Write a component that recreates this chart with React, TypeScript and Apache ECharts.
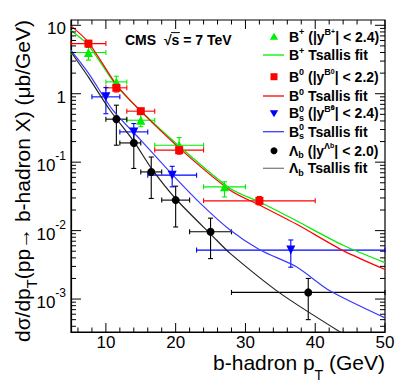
import React, { useEffect, useRef } from 'react';
import * as echarts from 'echarts';

// ---- axis ranges & ticks ----
const X_MIN = 5;
const X_MAX = 50;
const Y_MIN = 3.3e-4;
const Y_MAX = 11.95;

const xMajorTicks = [10, 20, 30, 40, 50];
const xMinorTicks = [6, 8, 12, 14, 16, 18, 22, 24, 26, 28, 32, 34, 36, 38, 42, 44, 46, 48];
const yMajorTicks = [0.001, 0.01, 0.1, 1, 10];
const yMinorMantissa = [2, 3, 4, 5, 6, 7, 8, 9];
const yMinorDecades = [0.0001, 0.001, 0.01, 0.1, 1];

// ---- B+ (green) ----
const bpX = [7.5, 11.5, 15, 20.5, 27];
const bpXLo = [5, 10, 13, 17, 24];
const bpXHi = [10, 13, 17, 24, 30];
const bpY = [4.0, 1.49, 0.41, 0.177, 0.0436];
const bpYLo = [3.1, 1.19, 0.33, 0.134, 0.031];
const bpYHi = [4.8, 1.8, 0.51, 0.229, 0.0516];

// ---- B0 (red) ----
const b0X = [7.5, 11.5, 15, 20.5, 32];
const b0XLo = [5, 10, 13, 17, 24];
const b0XHi = [10, 13, 17, 24, 40];
const b0Y = [5.4, 1.22, 0.556, 0.15, 0.0272];
const b0YLo = [4.8, 1.06, 0.5, 0.131, 0.0237];
const b0YHi = [6.0, 1.41, 0.61, 0.173, 0.0315];

// ---- Bs (blue) ----
const bsX = [10, 14, 19.5, 36.5];
const bsXLo = [8, 12, 16, 23];
const bsXHi = [12, 16, 23, 50];
const bsY = [0.9, 0.277, 0.0646, 0.00519];
const bsYLo = [0.51, 0.188, 0.0436, 0.00292];
const bsYHi = [1.23, 0.367, 0.087, 0.0073];

// ---- Lambda_b (black) ----
const lbX = [11.5, 14, 16.5, 20, 25, 39];
const lbXLo = [10, 12, 15, 18, 22, 28];
const lbXHi = [13, 15, 18, 22, 28, 50];
const lbY = [0.425, 0.191, 0.072, 0.0279, 0.0096, 0.00125];
const lbYLo = [0.177, 0.081, 0.0295, 0.0113, 0.0039, 0.0005];
const lbYHi = [0.68, 0.293, 0.119, 0.0446, 0.0152, 0.002];

// ---- Tsallis fits ----
const bpFitX = [5, 7.5, 11.5, 15, 20.6, 27.8, 32.5, 37.3, 44, 50];
const bpFitY = [8.4, 5.1, 1.31, 0.56, 0.168, 0.0413, 0.0249, 0.0139, 0.0061, 0.0034];
const b0FitX = [5, 7.5, 11.5, 15, 20.6, 27.8, 32.5, 37.3, 44, 50];
const b0FitY = [9.8, 5.65, 1.36, 0.556, 0.158, 0.039, 0.0223, 0.01245, 0.0051, 0.0027];
const bsFitX = [5, 7.5, 11, 15, 19.6, 23.5, 27.8, 32.1, 37.3, 42.1, 50];
const bsFitY = [4.3, 2.0, 0.574, 0.21, 0.0646, 0.0252, 0.0102, 0.0052, 0.00296, 0.00132, 0.00053];
const lbFitX = [5, 7.5, 10.6, 14.1, 16.5, 20.1, 25.4, 27.8, 35, 44];
const lbFitY = [4.07, 1.75, 0.574, 0.195, 0.082, 0.0285, 0.0081, 0.00465, 0.00121, 0.00031];

const FONT = '"Liberation Sans", Arial, Helvetica, sans-serif';

const GREEN = '#00ee00';
const RED = '#ff0000';
const BLUE = '#0000ff';
const BLACK = '#000000';

function zip(xs: number[], ys: number[]) {
  return xs.map((x, i) => [x, ys[i]]);
}
function errRows(x: number[], y: number[], xl: number[], xh: number[], yl: number[], yh: number[]) {
  return x.map((v, i) => [v, y[i], xl[i], xh[i], yl[i], yh[i]]);
}

function errSeries(data: number[][], color: string) {
  return {
    type: 'custom',
    coordinateSystem: 'cartesian2d',
    encode: { x: 0, y: 1 },
    data,
    z: 3,
    renderItem: (params: any, api: any) => {
      const x = api.value(0), y = api.value(1);
      const l = api.coord([api.value(2), y]);
      const r = api.coord([api.value(3), y]);
      const lo = api.coord([x, api.value(4)]);
      const hi = api.coord([x, api.value(5)]);
      const cap = 2.5;
      const st = { stroke: color, lineWidth: 1.1 };
      const ln = (x1: number, y1: number, x2: number, y2: number) => ({
        type: 'line', shape: { x1, y1, x2, y2 }, style: st,
      });
      return {
        type: 'group',
        children: [
          ln(l[0], l[1], r[0], r[1]),
          ln(lo[0], lo[1], hi[0], hi[1]),
          ln(l[0], l[1] - cap, l[0], l[1] + cap),
          ln(r[0], r[1] - cap, r[0], r[1] + cap),
          ln(lo[0] - cap, lo[1], lo[0] + cap, lo[1]),
          ln(hi[0] - cap, hi[1], hi[0] + cap, hi[1]),
        ],
      };
    },
  };
}

function fitSeries(xs: number[], ys: number[], color: string) {
  return {
    type: 'line',
    data: zip(xs, ys),
    showSymbol: false,
    smooth: 0.25,
    lineStyle: { color, width: 1.2 },
    z: 4,
    silent: true,
  };
}

function markerSeries(xs: number[], ys: number[], color: string, symbol: string, size: number, rotate = 0) {
  return {
    type: 'scatter',
    data: zip(xs, ys),
    symbol,
    symbolSize: size,
    symbolRotate: rotate,
    itemStyle: { color, opacity: 1 },
    z: 5,
  };
}

export default function App() {
  const ref = useRef<HTMLDivElement>(null);
  useEffect(() => {
    document.body.style.margin = '0';
    const chart = echarts.init(ref.current!, null, { renderer: 'svg' });

    const xTickData = [
      ...xMajorTicks.map((v) => [v, 1, 1]),
      ...xMinorTicks.map((v) => [v, 1, 0]),
    ];
    const yMinorTicks: number[] = [];
    yMinorDecades.forEach((d) => yMinorMantissa.forEach((m) => {
      const v = m * d;
      if (v > Y_MIN && v < Y_MAX) yMinorTicks.push(v);
    }));
    const yTickData = [
      ...yMajorTicks.map((v) => [10, v, 1]),
      ...yMinorTicks.map((v) => [10, v, 0]),
    ];

    // text measurements
    const ctx = document.createElement('canvas').getContext('2d')!;
    ctx.font = 'bold 14px "Liberation Sans"';
    const cmsX = 125;
    const wPre = ctx.measureText('CMS  \u221A').width;
    const wS = ctx.measureText('s').width;
    ctx.font = '21px "Liberation Sans"';
    const wXa = ctx.measureText('b-hadron p').width;
    const wXc = ctx.measureText(' (GeV)').width;
    ctx.font = '14px "Liberation Sans"';
    const wXb = ctx.measureText('T').width;
    const xcX = 385 - wXc;
    const xbX = xcX - wXb;
    const xaX = xbX - wXa;

    // y title: fit "dσ/dp_T(pp→ b-hadron X) (μb/GeV)" between y = 20 and y = 342
    const yA = 'd\u03C3/dp';
    const yC = '(pp\u2192 b-hadron X) (\u03BCb/GeV)';
    ctx.font = '20px "Liberation Sans"';
    const wA20 = ctx.measureText(yA).width;
    const wC20 = ctx.measureText(yC).width;
    ctx.font = '14px "Liberation Sans"';
    const wB14 = ctx.measureText('T').width;
    const yScale = 322 / (wA20 + wC20 + wB14);
    const yMainSize = 20 * yScale;
    const ySubSize = 14 * yScale;
    const wC = wC20 * yScale;
    const wB = wB14 * yScale;

    const mainRich = {
      m: { fontSize: 14, fontWeight: 'bold', fontFamily: FONT, lineHeight: 18, verticalAlign: 'middle', fill: '#000', color: '#000' },
      sp: { fontSize: 9, fontWeight: 'bold', fontFamily: FONT, lineHeight: 11, verticalAlign: 'top', fill: '#000', color: '#000' },
      spz: { fontSize: 9, fontWeight: 'bold', fontFamily: FONT, lineHeight: 11, verticalAlign: 'top', width: 0, fill: '#000', color: '#000' },
      ssp: { fontSize: 7, fontWeight: 'bold', fontFamily: FONT, lineHeight: 7, verticalAlign: 'top', fill: '#000', color: '#000' },
      sspz: { fontSize: 7, fontWeight: 'bold', fontFamily: FONT, lineHeight: 7, verticalAlign: 'top', width: 0, fill: '#000', color: '#000' },
      ssb: { fontSize: 7, fontWeight: 'bold', fontFamily: FONT, lineHeight: 15, verticalAlign: 'top', fill: '#000', color: '#000' },
      sb: { fontSize: 9, fontWeight: 'bold', fontFamily: FONT, lineHeight: 9, verticalAlign: 'bottom', fill: '#000', color: '#000' },
    };

    const legendRows = [
      { y: 36.7, kind: 'tri', color: GREEN, text: '{m|B}{sp|+}{m| (|y}{sp|B}{ssp|+}{m|| < 2.4)}' },
      { y: 55, kind: 'line', color: GREEN, text: '{m|B}{sp|+}{m| Tsallis fit}' },
      { y: 76.7, kind: 'sq', color: RED, text: '{m|B}{sp|0}{m| (|y}{sp|B}{ssp|0}{m|| < 2.2)}' },
      { y: 96, kind: 'line', color: RED, text: '{m|B}{sp|0}{m| Tsallis fit}' },
      { y: 113.3, kind: 'itri', color: BLUE, text: '{m|B}{spz|0}{sb|s}{m| (|y}{sp|B}{sspz|0}{ssb|s}{m|| < 2.4)}' },
      { y: 131.7, kind: 'line', color: '#3a3aff', text: '{m|B}{spz|0}{sb|s}{m| Tsallis fit}' },
      { y: 150.7, kind: 'circ', color: BLACK, text: '{m|\u039B}{sb|b}{m| (|y}{sp|\u039B}{ssb|b}{m|| < 2.0)}' },
      { y: 168.3, kind: 'line', color: '#808080', text: '{m|\u039B}{sb|b}{m| Tsallis fit}' },
    ];
    const mx = 274;
    const legendEls: any[] = [];
    legendRows.forEach((r) => {
      if (r.kind === 'tri') legendEls.push({ type: 'polygon', shape: { points: [[mx, r.y - 4], [mx + 4.2, r.y + 3], [mx - 4.2, r.y + 3]] }, style: { fill: r.color } });
      if (r.kind === 'itri') legendEls.push({ type: 'polygon', shape: { points: [[mx, r.y + 4], [mx + 4.2, r.y - 3], [mx - 4.2, r.y - 3]] }, style: { fill: r.color } });
      if (r.kind === 'sq') legendEls.push({ type: 'rect', shape: { x: mx - 3.5, y: r.y - 3.5, width: 7, height: 7 }, style: { fill: r.color } });
      if (r.kind === 'circ') legendEls.push({ type: 'circle', shape: { cx: mx, cy: r.y, r: 3.5 }, style: { fill: r.color } });
      if (r.kind === 'line') legendEls.push({ type: 'line', shape: { x1: 263, y1: r.y, x2: 284, y2: r.y }, style: { stroke: r.color, lineWidth: 1.3 } });
      legendEls.push({
        type: 'text', x: 289, y: r.y,
        style: { text: r.text, rich: mainRich, align: 'left', verticalAlign: 'middle', textAlign: 'left', textVerticalAlign: 'middle', fontSize: 14, fontWeight: 'bold', fontFamily: FONT, fill: '#000' },
      });
    });

    const plainText = (x: number, y: number, text: string, size: number) => ({
      type: 'text', x, y,
      style: {
        text, fontSize: size, fontFamily: FONT, fill: '#000',
        align: 'left', verticalAlign: 'middle', textAlign: 'left', textVerticalAlign: 'middle', lineHeight: size * 0.7,
      },
    });
    const rotText = (x: number, y: number, text: string, size: number) => ({
      type: 'text', x, y, rotation: Math.PI / 2,
      style: {
        text, fontSize: size, fontFamily: FONT, fill: '#000',
        align: 'right', verticalAlign: 'middle', textAlign: 'right', textVerticalAlign: 'middle', lineHeight: size * 0.8,
      },
    });

    const option: any = {
      animation: false,
      backgroundColor: '#fff',
      grid: { left: 71, right: 13, top: 20, bottom: 50, show: true, borderColor: '#000', borderWidth: 1.2, backgroundColor: 'transparent' },
      xAxis: {
        type: 'value', min: X_MIN, max: X_MAX, interval: 5,
        axisLine: { show: true, lineStyle: { color: '#000', width: 1.2 } },
        axisTick: { show: false },
        splitLine: { show: false },
        axisLabel: {
          margin: 4, fontSize: 17, lineHeight: 12, fontFamily: FONT, color: '#000',
          formatter: (v: number) => (v % 10 === 0 ? String(v) : ''),
        },
      },
      yAxis: {
        type: 'log', logBase: 10, min: Y_MIN, max: Y_MAX,
        axisLine: { show: true, lineStyle: { color: '#000', width: 1.2 } },
        axisTick: { show: false },
        splitLine: { show: false },
        minorTick: { show: false },
        axisLabel: {
          margin: 5, color: '#000', showMinLabel: false, showMaxLabel: false,
          formatter: (v: number) => {
            const k = Math.log10(v);
            const r = Math.round(k);
            if (Math.abs(k - r) > 1e-3) return '';
            if (r === 1) return '{b|10}';
            if (r === 0) return '{b|1}';
            return '{b|10}{s|' + r + '}';
          },
          rich: {
            b: { fontSize: 17, fontFamily: FONT, color: '#000', lineHeight: 24, verticalAlign: 'bottom' },
            s: { fontSize: 12, fontFamily: FONT, color: '#000', lineHeight: 14, verticalAlign: 'top' },
          },
        },
      },
      graphic: [
        rotText(22, 20, yC, yMainSize),
        rotText(32, 20 + wC, 'T', ySubSize),
        rotText(22, 20 + wC + wB, yA, yMainSize),
        plainText(xaX, 362, 'b-hadron p', 21),
        plainText(xbX, 375, 'T', 14),
        plainText(xcX, 362, ' (GeV)', 21),
        {
          type: 'text', x: cmsX, y: 40,
          style: {
            text: 'CMS  \u221As = 7 TeV', fontSize: 14, fontWeight: 'bold', fontFamily: FONT, fill: '#000',
            align: 'left', verticalAlign: 'middle', textAlign: 'left', textVerticalAlign: 'middle',
          },
        },
        {
          type: 'line', shape: { x1: cmsX + wPre - 0.5, y1: 32.6, x2: cmsX + wPre + wS + 0.5, y2: 32.6 },
          style: { stroke: '#000', lineWidth: 1 },
        },
        ...legendEls,
      ],
      series: [
        {
          type: 'custom', coordinateSystem: 'cartesian2d', encode: { x: 0, y: 1 }, data: xTickData, z: 6, silent: true,
          renderItem: (params: any, api: any) => {
            const cs = params.coordSys;
            const px = api.coord([api.value(0), 1])[0];
            const len = api.value(2) === 1 ? 9 : 4.5;
            const st = { stroke: '#000', lineWidth: 1 };
            return {
              type: 'group', children: [
                { type: 'line', shape: { x1: px, y1: cs.y + cs.height, x2: px, y2: cs.y + cs.height - len }, style: st },
                { type: 'line', shape: { x1: px, y1: cs.y, x2: px, y2: cs.y + len }, style: st },
              ],
            };
          },
        },
        {
          type: 'custom', coordinateSystem: 'cartesian2d', encode: { x: 0, y: 1 }, data: yTickData, z: 6, silent: true,
          renderItem: (params: any, api: any) => {
            const cs = params.coordSys;
            const py = api.coord([10, api.value(1)])[1];
            const len = api.value(2) === 1 ? 10 : 5;
            const st = { stroke: '#000', lineWidth: 1 };
            return {
              type: 'group', children: [
                { type: 'line', shape: { x1: cs.x, y1: py, x2: cs.x + len, y2: py }, style: st },
                { type: 'line', shape: { x1: cs.x + cs.width, y1: py, x2: cs.x + cs.width - len, y2: py }, style: st },
              ],
            };
          },
        },
        errSeries(errRows(bpX, bpY, bpXLo, bpXHi, bpYLo, bpYHi), GREEN),
        errSeries(errRows(b0X, b0Y, b0XLo, b0XHi, b0YLo, b0YHi), RED),
        errSeries(errRows(bsX, bsY, bsXLo, bsXHi, bsYLo, bsYHi), BLUE),
        errSeries(errRows(lbX, lbY, lbXLo, lbXHi, lbYLo, lbYHi), BLACK),
        fitSeries(bpFitX, bpFitY, GREEN),
        fitSeries(b0FitX, b0FitY, RED),
        fitSeries(bsFitX, bsFitY, '#3a3aff'),
        fitSeries(lbFitX, lbFitY, '#222222'),
        markerSeries(bpX, bpY, GREEN, 'triangle', 9),
        markerSeries(b0X, b0Y, RED, 'rect', 8),
        markerSeries(bsX, bsY, BLUE, 'triangle', 9, 180),
        markerSeries(lbX, lbY, BLACK, 'circle', 8),
      ],
    };
    chart.setOption(option);
    return () => chart.dispose();
  }, []);
  return <div ref={ref} style={{ width: 398, height: 382 }} />;
}
